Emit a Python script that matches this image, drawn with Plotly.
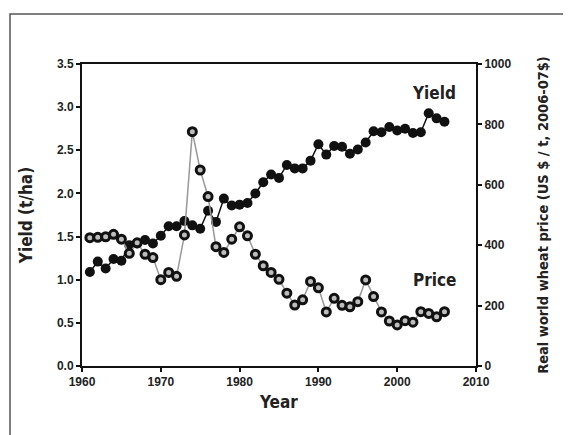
import plotly.graph_objects as go

# Datos
years = list(range(1961, 2007))

yield_tha = [1.09, 1.21, 1.13, 1.24, 1.22, 1.40, 1.42, 1.46, 1.42, 1.51,
             1.62, 1.62, 1.68, 1.63, 1.59, 1.80, 1.67, 1.94, 1.86, 1.87,
             1.89, 2.00, 2.13, 2.22, 2.18, 2.33, 2.29, 2.29, 2.38, 2.57,
             2.45, 2.55, 2.54, 2.46, 2.51, 2.59, 2.72, 2.71, 2.77, 2.73,
             2.75, 2.70, 2.71, 2.93, 2.87, 2.83]

price_usd = [425, 426, 428, 436, 420, 373, 408, 370, 359, 286,
             310, 297, 434, 776, 649, 561, 395, 376, 420, 461,
             431, 370, 332, 310, 287, 241, 202, 219, 280, 259,
             179, 224, 201, 196, 213, 285, 230, 179, 149, 136,
             150, 145, 180, 174, 163, 180]

cond = 'Liberation Sans Narrow, DejaVu Sans Condensed'
tick_font = dict(family='Liberation Sans, Arial', size=12, color='#222', weight='bold')
title_font = dict(family=cond, size=17, color='#222', weight='bold')

fig = go.Figure()

fig.add_trace(go.Scatter(
    x=years, y=price_usd, yaxis='y2', mode='lines+markers',
    line=dict(color='#999999', width=1.5),
    marker=dict(size=8, color='#bdbdbd', line=dict(color='#111', width=3)),
    showlegend=False
))

fig.add_trace(go.Scatter(
    x=years, y=yield_tha, mode='lines+markers',
    line=dict(color='#111', width=1.5),
    marker=dict(size=10, color='#111'),
    showlegend=False
))

# marco exterior
fig.add_shape(type='rect', xref='paper', yref='paper',
              x0=-0.1827, x1=2, y0=-1, y1=1.1656,
              line=dict(color='#555', width=1.5), layer='below')

fig.add_annotation(x=2004.7, y=3.16, text='Yield', showarrow=False,
                   font=dict(family=cond, size=17, color='#222', weight='bold'))
fig.add_annotation(x=2004.7, y=1.0, text='Price', showarrow=False,
                   font=dict(family=cond, size=17, color='#222', weight='bold'))

fig.update_layout(
    width=563, height=427,
    margin=dict(l=74, r=95, t=56, b=69),
    plot_bgcolor='white', paper_bgcolor='white',
    xaxis=dict(range=[1960, 2010], dtick=10, showgrid=False, zeroline=False,
               showline=True, linecolor='#111', linewidth=2, mirror=True,
               ticks='outside', ticklen=4, tickcolor='#111', tickwidth=1.5,
               tickfont=tick_font,
               title=dict(text='Year', font=title_font, standoff=8)),
    yaxis=dict(range=[0, 3.5], dtick=0.5, tickformat='.1f', showgrid=False, zeroline=False,
               showline=True, linecolor='#111', linewidth=2,
               ticks='outside', ticklen=4, tickcolor='#111', tickwidth=1.5,
               tickfont=tick_font,
               title=dict(text='Yield (t/ha)', font=dict(family=cond, size=17, color='#222', weight='bold'), standoff=20)),
    yaxis2=dict(range=[0, 1000], dtick=200, overlaying='y', side='right',
                showgrid=False, zeroline=False,
                showline=True, linecolor='#111', linewidth=2,
                ticks='outside', ticklen=4, tickcolor='#111', tickwidth=1.5,
                tickfont=tick_font,
                title=dict(text='Real world wheat price (US $ / t, 2006-07$)', font=dict(family=cond, size=14.5, color='#222', weight='bold'), standoff=27)),
)

fig.write_html("out.html")
